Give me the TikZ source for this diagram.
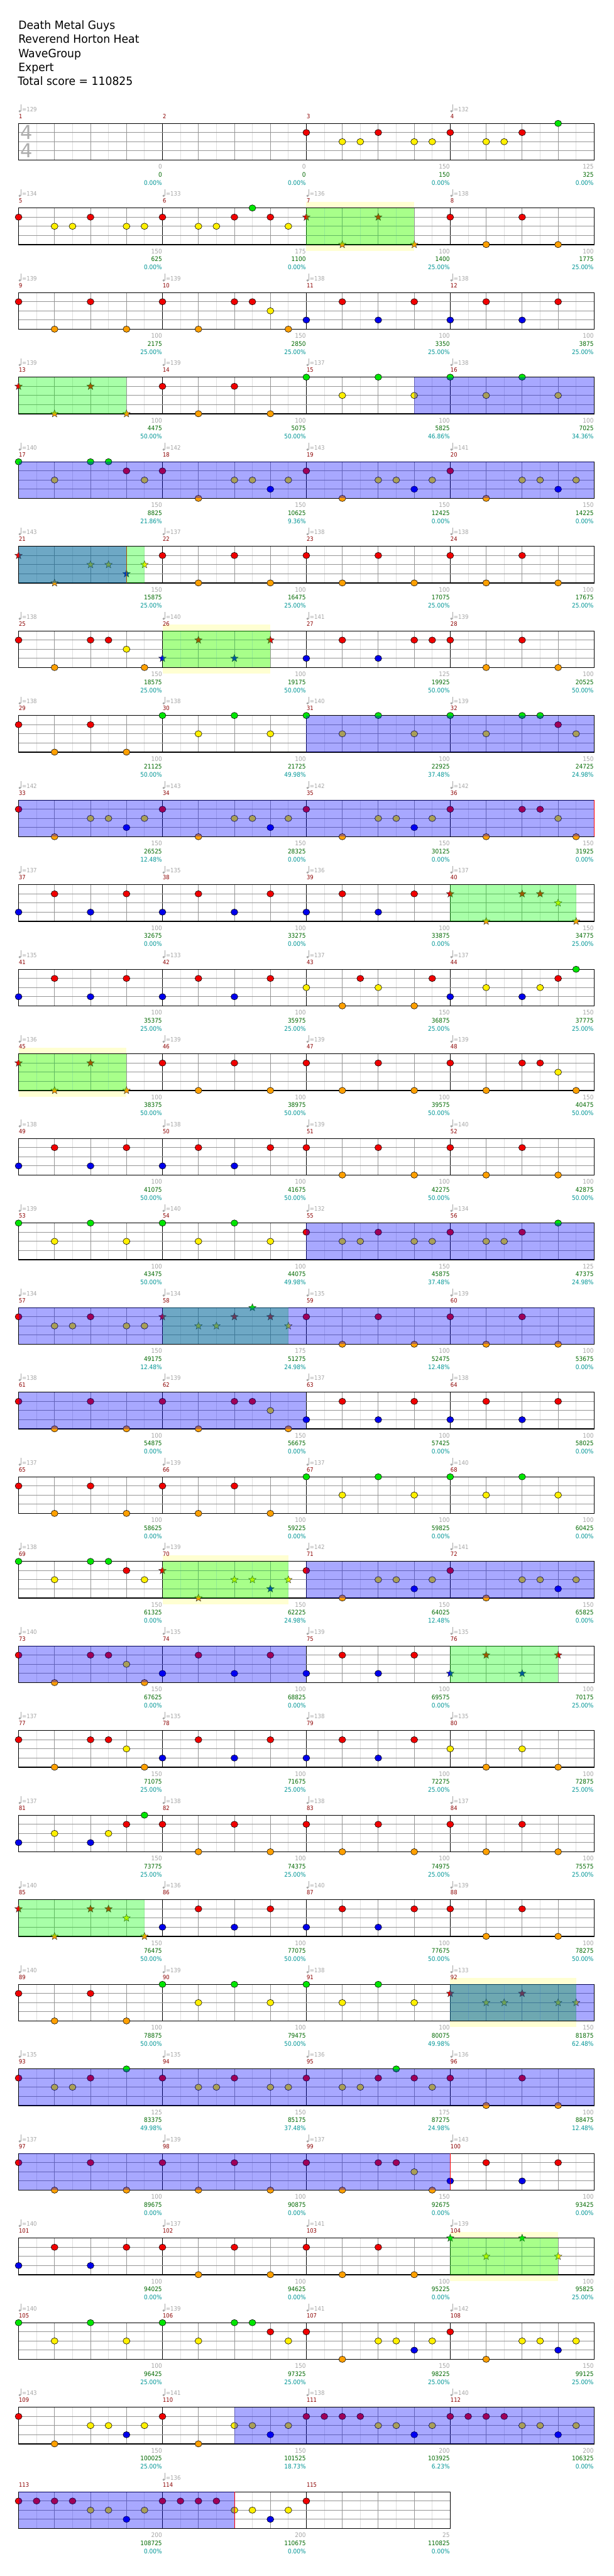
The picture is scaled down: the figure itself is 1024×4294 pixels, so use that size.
\documentclass[tikz,border=0pt]{standalone}
\usepackage{fontspec}
\setmainfont{DejaVu Sans}
\newfontfamily\chartfont[FakeStretch=0.9]{DejaVu Sans}
\newfontfamily\titlefont[FakeStretch=0.95]{DejaVu Sans}
\usetikzlibrary{shapes.geometric}

\definecolor{gem0}{RGB}{0,230,0}
\definecolor{gem1}{RGB}{240,0,0}
\definecolor{gem2}{RGB}{255,240,0}
\definecolor{gem3}{RGB}{0,0,235}
\definecolor{gem4}{RGB}{255,160,0}
\definecolor{tempogray}{RGB}{165,165,165}
\definecolor{barred}{RGB}{140,0,0}
\definecolor{ptsgray}{RGB}{165,165,165}
\definecolor{ptsgreen}{RGB}{0,105,0}
\definecolor{ptsteal}{RGB}{0,150,150}
\definecolor{glowyellow}{RGB}{255,255,210}
\definecolor{lanegray}{RGB}{150,150,150}
\definecolor{eighthgray}{RGB}{222,222,222}

\tikzset{
  chartrow/.style={shift={(0,{205.7+141*(#1-1)})}},
  eighthline/.style={draw=eighthgray, line width=0.9pt},
  beatline/.style={draw=lanegray, line width=0.9pt},
  barline/.style={draw=black, line width=0.9pt},
  lane/.style={draw=lanegray, line width=1.3pt},
  staffframe/.style={draw=black, line width=1.5pt},
  gem/.style={ellipse, draw=black, line width=0.6pt, minimum width=11.5pt, minimum height=10.5pt, inner sep=0pt},
  spgem/.style={star, star points=5, star point ratio=2.3, draw=black!80, line width=0.5pt, minimum size=13pt, inner sep=0pt},
  spfill/.style={fill=green, opacity=0.34},
  odfill/.style={fill=blue, opacity=0.34},
  odendline/.style={draw=red, line width=0.7pt},
  headline/.style={anchor=base west, inner sep=0pt, font=\titlefont\fontsize{19}{22}\selectfont},
  timesig/.style={anchor=base west, inner sep=0pt, text=black!32, font=\fontsize{32}{32}\selectfont},
  tempotext/.style={anchor=base west, inner sep=0pt, text=tempogray, font=\chartfont\fontsize{10}{12}\selectfont},
  barnum/.style={anchor=base west, inner sep=0pt, text=barred, font=\chartfont\fontsize{9.8}{12}\selectfont},
  ptsgray/.style={anchor=base east, inner sep=0pt, text=ptsgray, font=\chartfont\fontsize{10.5}{12}\selectfont},
  ptsgreen/.style={anchor=base east, inner sep=0pt, text=ptsgreen, font=\chartfont\fontsize{10.5}{12}\selectfont},
  ptsteal/.style={anchor=base east, inner sep=0pt, text=ptsteal, font=\chartfont\fontsize{10.5}{12}\selectfont}
}

% staff grid, frame and bar numbers: #1 first bar, #2 bars in the row
\newcommand{\staff}[2]{%
  \pgfmathtruncatemacro{\nlast}{8*#2-1}%
  \pgfmathtruncatemacro{\mlast}{#2-1}%
  \pgfmathsetmacro{\xend}{31+240*#2}%
  \foreach \i in {1,3,...,\nlast} \draw[eighthline] ({31+30*\i},0) -- ++(0,61);
  \foreach \m in {0,...,\mlast} \foreach \b in {2,4,6} \draw[beatline] ({31+240*\m+30*\b},0) -- ++(0,61);
  \ifnum\mlast>0 \foreach \m in {1,...,\mlast} \draw[barline] ({31+240*\m},0) -- ++(0,61);\fi
  \foreach \y in {15.25,30.5,45.75} \draw[lane] (31,\y) -- (\xend,\y);
  \draw[staffframe] (31,0) rectangle (\xend,61);
  \foreach \m in {0,...,\mlast}{%
    \pgfmathtruncatemacro{\mnum}{#1+\m}%
    \node[barnum] (bar\mnum) at ({31.4+240*\m},-8.4) {\mnum};
  }%
}
% notes: #1-#2 star power range, #3 list pos/lane
\newcommand{\gems}[3]{%
  \foreach \pos/\lane in {#3}{%
    \pgfmathtruncatemacro{\isstar}{and(\pos>=#1,\pos<=#2)}%
    \ifnum\isstar=1
      \node[spgem, fill=gem\lane] (gem-\pos-\lane) at ({31+30*\pos},{15.25*\lane}) {};
    \else
      \node[gem, fill=gem\lane] (gem-\pos-\lane) at ({31+30*\pos},{15.25*\lane}) {};
    \fi
  }%
}
\newcommand{\glow}[2]{\fill[glowyellow] ({31+30*#1},-10.7) rectangle ({31+30*#2},71.3);}
\newcommand{\spzone}[2]{\fill[spfill] ({31+30*#1},0) rectangle ({31+30*#2},61);}
\newcommand{\odzone}[2]{\fill[odfill] ({31+30*#1},0) rectangle ({31+30*#2},61);}
\newcommand{\odend}[1]{\draw[odendline] ({31+30*#1},0) -- ++(0,61);}
% tempo marks: slot/bpm
\newcommand{\tempi}[1]{%
  \foreach \slot/\bpm in {#1}{%
    \fill[tempogray] ({33+240*\slot},-20.3) circle (2);
    \draw[tempogray, line width=0.7pt] ({34.8+240*\slot},-20.3) -- ++(0,-11);
    \node[tempotext] (bpm\slot) at ({36.6+240*\slot},-20) {=\bpm};
  }%
}
% scores under each bar: gain/total/percent
\newcommand{\scores}[1]{%
  \foreach \gn/\tot/\pc [count=\cnt] in {#1}{%
    \node[ptsgray] (gain\cnt) at ({30.4+240*\cnt},76) {\gn};
    \node[ptsgreen] (sum\cnt) at ({30.4+240*\cnt},89.3) {\tot};
    \node[ptsteal] (pct\cnt) at ({30.4+240*\cnt},102.6) {\pc\%};
  }%
}

\begin{document}
\begin{tikzpicture}[x=1pt,y=-1pt]
  \useasboundingbox (0,0) rectangle (1024,4294);
  \fill[white] (0,0) rectangle (1024,4294);

  \node[headline] (band) at (30.5,49) {Death Metal Guys};
  \node[headline] (artist) at (30.5,72.2) {Reverend Horton Heat};
  \node[headline] (charter) at (30.5,95.4) {WaveGroup};
  \node[headline] (level) at (30.5,118.6) {Expert};
  \node[headline] (total) at (29.5,141.8) {Total score = 110825};

  \begin{scope}[chartrow=1]
    \staff{1}{4}
    \node[timesig] (tsup) at (33.5,27) {4};
    \node[timesig] (tsdown) at (33.5,57) {4};
    \gems{-1}{-1}{16/1,18/2,19/2,20/1,22/2,23/2,24/1,26/2,27/2,28/1,30/0}
    \tempi{0/129,3/132}
    \scores{0/0/0.00,0/0/0.00,150/150/0.00,125/325/0.00}
  \end{scope}

  \begin{scope}[chartrow=2]
    \glow{16}{22}
    \staff{5}{4}
    \gems{16}{22}{0/1,2/2,3/2,4/1,6/2,7/2,8/1,10/2,11/2,12/1,13/0,14/1,15/2,16/1,18/4,20/1,22/4,24/1,26/4,28/1,30/4}
    \spzone{16}{22}
    \tempi{0/134,1/133,2/136,3/138}
    \scores{150/625/0.00,175/1100/0.00,100/1400/25.00,100/1775/25.00}
  \end{scope}

  \begin{scope}[chartrow=3]
    \staff{9}{4}
    \gems{-1}{-1}{0/1,2/4,4/1,6/4,8/1,10/4,12/1,13/1,14/2,15/4,16/3,18/1,20/3,22/1,24/3,26/1,28/3,30/1}
    \tempi{0/139,1/139,2/138,3/138}
    \scores{100/2175/25.00,150/2850/25.00,100/3350/25.00,100/3875/25.00}
  \end{scope}

  \begin{scope}[chartrow=4]
    \staff{13}{4}
    \gems{0}{6}{0/1,2/4,4/1,6/4,8/1,10/4,12/1,14/4,16/0,18/2,20/0,22/2,24/0,26/2,28/0,30/2}
    \spzone{0}{6}
    \odzone{22}{32}
    \tempi{0/139,1/139,2/137,3/138}
    \scores{100/4475/50.00,100/5075/50.00,100/5825/46.86,100/7025/34.36}
  \end{scope}

  \begin{scope}[chartrow=5]
    \staff{17}{4}
    \gems{-1}{-1}{0/0,2/2,4/0,5/0,6/1,7/2,8/1,10/4,12/2,13/2,14/3,15/2,16/1,18/4,20/2,21/2,22/3,23/2,24/1,26/4,28/2,29/2,30/3,31/2}
    \odzone{0}{32}
    \tempi{0/140,1/142,2/143,3/141}
    \scores{150/8825/21.86,150/10625/9.36,150/12425/0.00,150/14225/0.00}
  \end{scope}

  \begin{scope}[chartrow=6]
    \staff{21}{4}
    \gems{0}{7}{0/1,2/4,4/2,5/2,6/3,7/2,8/1,10/4,12/1,14/4,16/1,18/4,20/1,22/4,24/1,26/4,28/1,30/4}
    \odend{6}
    \spzone{0}{7}
    \odzone{0}{6}
    \tempi{0/143,1/137,2/138,3/138}
    \scores{150/15875/25.00,100/16475/25.00,100/17075/25.00,100/17675/25.00}
  \end{scope}

  \begin{scope}[chartrow=7]
    \glow{8}{14}
    \staff{25}{4}
    \gems{8}{14}{0/1,2/4,4/1,5/1,6/2,7/4,8/3,10/1,12/3,14/1,16/3,18/1,20/3,22/1,23/1,24/1,26/4,28/1,30/4}
    \spzone{8}{14}
    \tempi{0/138,1/140,2/141,3/139}
    \scores{150/18575/25.00,100/19175/50.00,125/19925/50.00,100/20525/50.00}
  \end{scope}

  \begin{scope}[chartrow=8]
    \staff{29}{4}
    \gems{-1}{-1}{0/1,2/4,4/1,6/4,8/0,10/2,12/0,14/2,16/0,18/2,20/0,22/2,24/0,26/2,28/0,29/0,30/1,31/2}
    \odzone{16}{32}
    \tempi{0/138,1/138,2/140,3/139}
    \scores{100/21125/50.00,100/21725/49.98,100/22925/37.48,150/24725/24.98}
  \end{scope}

  \begin{scope}[chartrow=9]
    \staff{33}{4}
    \gems{-1}{-1}{0/1,2/4,4/2,5/2,6/3,7/2,8/1,10/4,12/2,13/2,14/3,15/2,16/1,18/4,20/2,21/2,22/3,23/2,24/1,26/4,28/1,29/1,30/2,31/4}
    \odzone{0}{32}
    \odend{32}
    \tempi{0/142,1/143,2/142,3/142}
    \scores{150/26525/12.48,150/28325/0.00,150/30125/0.00,150/31925/0.00}
  \end{scope}

  \begin{scope}[chartrow=10]
    \staff{37}{4}
    \gems{24}{31}{0/3,2/1,4/3,6/1,8/3,10/1,12/3,14/1,16/3,18/1,20/3,22/1,24/1,26/4,28/1,29/1,30/2,31/4}
    \spzone{24}{31}
    \tempi{0/137,1/135,2/136,3/137}
    \scores{100/32675/0.00,100/33275/0.00,100/33875/0.00,150/34775/25.00}
  \end{scope}

  \begin{scope}[chartrow=11]
    \staff{41}{4}
    \gems{-1}{-1}{0/3,2/1,4/3,6/1,8/3,10/1,12/3,14/1,16/2,18/4,19/1,20/2,22/4,23/1,24/3,26/2,28/3,29/2,30/1,31/0}
    \tempi{0/135,1/133,2/137,3/137}
    \scores{100/35375/25.00,100/35975/25.00,150/36875/25.00,150/37775/25.00}
  \end{scope}

  \begin{scope}[chartrow=12]
    \glow{0}{6}
    \staff{45}{4}
    \gems{0}{6}{0/1,2/4,4/1,6/4,8/1,10/4,12/1,14/4,16/1,18/4,20/1,22/4,24/1,26/4,28/1,29/1,30/2,31/4}
    \spzone{0}{6}
    \tempi{0/136,1/139,2/139,3/139}
    \scores{100/38375/50.00,100/38975/50.00,100/39575/50.00,150/40475/50.00}
  \end{scope}

  \begin{scope}[chartrow=13]
    \staff{49}{4}
    \gems{-1}{-1}{0/3,2/1,4/3,6/1,8/3,10/1,12/3,14/1,16/1,18/4,20/1,22/4,24/1,26/4,28/1,30/4}
    \tempi{0/138,1/138,2/139,3/140}
    \scores{100/41075/50.00,100/41675/50.00,100/42275/50.00,100/42875/50.00}
  \end{scope}

  \begin{scope}[chartrow=14]
    \staff{53}{4}
    \gems{-1}{-1}{0/0,2/2,4/0,6/2,8/0,10/2,12/0,14/2,16/1,18/2,19/2,20/1,22/2,23/2,24/1,26/2,27/2,28/1,30/0}
    \odzone{16}{32}
    \tempi{0/139,1/140,2/132,3/134}
    \scores{100/43475/50.00,100/44075/49.98,150/45875/37.48,125/47375/24.98}
  \end{scope}

  \begin{scope}[chartrow=15]
    \staff{57}{4}
    \gems{8}{15}{0/1,2/2,3/2,4/1,6/2,7/2,8/1,10/2,11/2,12/1,13/0,14/1,15/2,16/1,18/4,20/1,22/4,24/1,26/4,28/1,30/4}
    \spzone{8}{15}
    \odzone{0}{32}
    \tempi{0/134,1/134,2/135,3/139}
    \scores{150/49175/12.48,175/51275/24.98,100/52475/12.48,100/53675/0.00}
  \end{scope}

  \begin{scope}[chartrow=16]
    \staff{61}{4}
    \gems{-1}{-1}{0/1,2/4,4/1,6/4,8/1,10/4,12/1,13/1,14/2,15/4,16/3,18/1,20/3,22/1,24/3,26/1,28/3,30/1}
    \odzone{0}{16}
    \tempi{0/138,1/139,2/137,3/138}
    \scores{100/54875/0.00,150/56675/0.00,100/57425/0.00,100/58025/0.00}
  \end{scope}

  \begin{scope}[chartrow=17]
    \staff{65}{4}
    \gems{-1}{-1}{0/1,2/4,4/1,6/4,8/1,10/4,12/1,14/4,16/0,18/2,20/0,22/2,24/0,26/2,28/0,30/2}
    \tempi{0/137,1/139,2/137,3/140}
    \scores{100/58625/0.00,100/59225/0.00,100/59825/0.00,100/60425/0.00}
  \end{scope}

  \begin{scope}[chartrow=18]
    \glow{8}{15}
    \staff{69}{4}
    \gems{8}{15}{0/0,2/2,4/0,5/0,6/1,7/2,8/1,10/4,12/2,13/2,14/3,15/2,16/1,18/4,20/2,21/2,22/3,23/2,24/1,26/4,28/2,29/2,30/3,31/2}
    \spzone{8}{15}
    \odzone{16}{32}
    \tempi{0/138,1/139,2/142,3/141}
    \scores{150/61325/0.00,150/62225/24.98,150/64025/12.48,150/65825/0.00}
  \end{scope}

  \begin{scope}[chartrow=19]
    \staff{73}{4}
    \gems{24}{30}{0/1,2/4,4/1,5/1,6/2,7/4,8/3,10/1,12/3,14/1,16/3,18/1,20/3,22/1,24/3,26/1,28/3,30/1}
    \odzone{0}{16}
    \spzone{24}{30}
    \tempi{0/140,1/135,2/139,3/135}
    \scores{150/67625/0.00,100/68825/0.00,100/69575/0.00,100/70175/25.00}
  \end{scope}

  \begin{scope}[chartrow=20]
    \staff{77}{4}
    \gems{-1}{-1}{0/1,2/4,4/1,5/1,6/2,7/4,8/3,10/1,12/3,14/1,16/3,18/1,20/3,22/1,24/2,26/4,28/2,30/4}
    \tempi{0/137,1/135,2/138,3/135}
    \scores{150/71075/25.00,100/71675/25.00,100/72275/25.00,100/72875/25.00}
  \end{scope}

  \begin{scope}[chartrow=21]
    \staff{81}{4}
    \gems{-1}{-1}{0/3,2/2,4/3,5/2,6/1,7/0,8/1,10/4,12/1,14/4,16/1,18/4,20/1,22/4,24/1,26/4,28/1,30/4}
    \tempi{0/137,1/138,2/138,3/137}
    \scores{150/73775/25.00,100/74375/25.00,100/74975/25.00,100/75575/25.00}
  \end{scope}

  \begin{scope}[chartrow=22]
    \staff{85}{4}
    \gems{0}{7}{0/1,2/4,4/1,5/1,6/2,7/4,8/3,10/1,12/3,14/1,16/3,18/1,20/3,22/1,24/1,26/4,28/1,30/4}
    \spzone{0}{7}
    \tempi{0/140,1/136,2/140,3/139}
    \scores{150/76475/50.00,100/77075/50.00,100/77675/50.00,100/78275/50.00}
  \end{scope}

  \begin{scope}[chartrow=23]
    \glow{24}{31}
    \staff{89}{4}
    \gems{24}{31}{0/1,2/4,4/1,6/4,8/0,10/2,12/0,14/2,16/0,18/2,20/0,22/2,24/1,26/2,27/2,28/1,30/2,31/2}
    \spzone{24}{31}
    \odzone{24}{32}
    \tempi{0/140,1/139,2/138,3/133}
    \scores{100/78875/50.00,100/79475/50.00,100/80075/49.98,150/81875/62.48}
  \end{scope}

  \begin{scope}[chartrow=24]
    \staff{93}{4}
    \gems{-1}{-1}{0/1,2/2,3/2,4/1,6/0,8/1,10/2,11/2,12/1,14/2,15/2,16/1,18/2,19/2,20/1,21/0,22/1,23/2,24/1,26/4,28/1,30/4}
    \odzone{0}{32}
    \tempi{0/135,1/135,2/136,3/136}
    \scores{125/83375/49.98,150/85175/37.48,175/87275/24.98,100/88475/12.48}
  \end{scope}

  \begin{scope}[chartrow=25]
    \staff{97}{4}
    \gems{-1}{-1}{0/1,2/4,4/1,6/4,8/1,10/4,12/1,14/4,16/1,18/4,20/1,21/1,22/2,23/4,24/3,26/1,28/3,30/1}
    \odzone{0}{24}
    \odend{24}
    \tempi{0/137,1/139,2/137,3/143}
    \scores{100/89675/0.00,100/90875/0.00,150/92675/0.00,100/93425/0.00}
  \end{scope}

  \begin{scope}[chartrow=26]
    \glow{24}{30}
    \staff{101}{4}
    \gems{24}{30}{0/3,2/1,4/3,6/1,8/1,10/4,12/1,14/4,16/1,18/4,20/1,22/4,24/0,26/2,28/0,30/2}
    \spzone{24}{30}
    \tempi{0/140,1/137,2/141,3/139}
    \scores{100/94025/0.00,100/94625/0.00,100/95225/0.00,100/95825/25.00}
  \end{scope}

  \begin{scope}[chartrow=27]
    \staff{105}{4}
    \gems{-1}{-1}{0/0,2/2,4/0,6/2,8/0,10/2,12/0,13/0,14/1,15/2,16/1,18/4,20/2,21/2,22/3,23/2,24/1,26/4,28/2,29/2,30/3,31/2}
    \tempi{0/140,1/139,2/141,3/142}
    \scores{100/96425/25.00,150/97325/25.00,150/98225/25.00,150/99125/25.00}
  \end{scope}

  \begin{scope}[chartrow=28]
    \staff{109}{4}
    \gems{-1}{-1}{0/1,2/4,4/2,5/2,6/3,7/2,8/1,10/4,12/2,13/2,14/3,15/2,16/1,17/1,18/1,19/1,20/2,21/2,22/3,23/2,24/1,25/1,26/1,27/1,28/2,29/2,30/3,31/2}
    \odzone{12}{32}
    \tempi{0/143,1/141,2/138,3/140}
    \scores{150/100025/25.00,150/101525/18.73,200/103925/6.23,200/106325/0.00}
  \end{scope}

  \begin{scope}[chartrow=29]
    \staff{113}{3}
    \gems{-1}{-1}{0/1,1/1,2/1,3/1,4/2,5/2,6/3,7/2,8/1,9/1,10/1,11/1,12/2,13/2,14/3,15/2,16/1}
    \odzone{0}{12}
    \odend{12}
    \tempi{1/136}
    \scores{200/108725/0.00,200/110675/0.00,25/110825/0.00}
  \end{scope}
\end{tikzpicture}
\end{document}
